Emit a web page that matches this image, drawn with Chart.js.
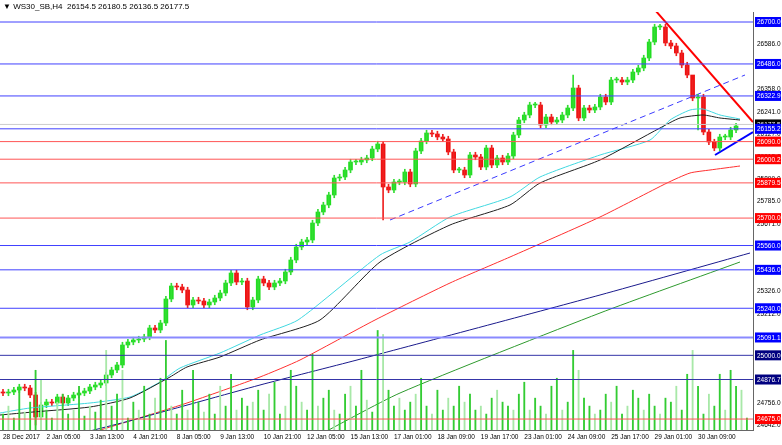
<!DOCTYPE html>
<html><head><meta charset="utf-8">
<script src="https://cdn.jsdelivr.net/npm/chart.js@4/dist/chart.umd.min.js"></script>
<style>body{margin:0;background:#fff;overflow:hidden}#w{position:relative;width:782px;height:445px}
#hdr{position:absolute;left:3px;top:2px;font:8px "Liberation Sans";color:#000}</style></head>
<body><div id="w"><canvas id="c" width="782" height="445"></canvas><div id="hdr">▼ WS30_SB,H4&nbsp; 26154.5 26180.5 26136.5 26177.5</div></div>
<script>
// close levels (chart pixel rows, converted to price below)
const yRead=[393,392,390,387,388,395,417,405,402,403,397,403,398,395,393,391,387,385,383,375,370,365,345,342,340,339,337,328,330,323,299,286,287,290,305,300,301,305,302,298,293,283,273,282,281,307,300,279,
283,287,283,281,272,260,247,242,240,223,212,205,195,178,177,170,162,162,160,158,149,144,187,190,182,182,172,184,151,141,133,134,137,139,152,170,170,175,155,157,167,148,165,158,162,156,
135,120,115,105,105,125,117,122,120,115,108,88,118,108,110,107,97,102,80,80,82,80,72,68,58,42,27,
27,43,46,53,65,75,98,97,132,142,148,137,137,130,126];
const volumes=[8,12,6,20,9,14,30,25,10,6,14,18,8,10,22,7,12,9,15,40,12,18,30,6,14,10,22,8,16,26,45,12,8,20,10,30,14,9,18,8,22,12,28,10,16,12,14,20,
10,18,24,8,12,30,22,14,10,38,12,16,20,10,8,18,22,12,30,15,9,50,48,20,12,16,10,14,18,26,12,8,20,10,16,12,22,14,18,10,12,8,16,20,14,12,10,18,
24,10,16,12,8,22,26,10,14,40,30,16,12,8,10,18,14,22,8,12,20,16,10,18,12,8,
16,14,22,10,28,40,22,8,18,12,28,10,30,22,20,6];
const wickOverride={6:[425,null],70:[220,null],105:[null,75],128:[130,null],127:[null,80]};
const xLabels=["28 Dec 2017","2 Jan 05:00","3 Jan 13:00","4 Jan 21:00","8 Jan 05:00","9 Jan 13:00","10 Jan 21:00","12 Jan 05:00","15 Jan 13:00","17 Jan 01:00","18 Jan 09:00","19 Jan 17:00","23 Jan 01:00","24 Jan 09:00","25 Jan 17:00","29 Jan 01:00","30 Jan 09:00"];
const yTicks=[26700,26586,26471,26358,26241,26127,26013,25899,25785,25671,25556,25441,25326,25212,25098,24984,24870,24756,24642];
const blueLevels=[26700,26486,26322.9,26155.2,25560,25436,25240];
const lightBlueLevels=[25091.1];
const navyLevels=[25000,24876.7];
const redLevels=[26090,26000.2,25879.5,25700,24675];
const lastPrice=26177.5;
// moving averages / trend lines read as [x pixel, y pixel] on the picture
const maCyan=[[0,413],[30,408],[90,403],[130,397],[160,382],[180,368],[220,353],[260,335],[298,320],[380,255],[410,242],[450,217],[510,197],[540,177],[600,155],[650,140],[670,120],[690,110],[703,109],[720,115],[740,119]];
const maBlack=[[0,415],[33,412],[90,407],[130,398],[170,377],[187,367],[220,357],[260,340],[320,320],[380,262],[450,225],[510,205],[540,183],[600,160],[660,128],[680,118],[703,115],[720,118],[740,120]];
const maRed=[[97,431],[133,420],[187,403],[260,377],[300,360],[375,320],[450,283],[510,257],[600,217],[667,183],[690,173],[710,170],[740,166]];
const maNavy=[[90,431],[133,420],[260,385],[357,360],[600,295],[750,253]];
const maGreen=[[310,440],[400,393],[600,313],[740,262]];
const trendRed=[[655,10],[753,122]];
const trendBlue=[[715,155],[753,132]];
const trendDash=[[390,220],[745,75]];

const P=y=>26700-(y-22)*5.1;
const I=x=>(x-3)/5.43;
const C=yRead.map(P);
const O=C.map((c,i)=>i?C[i-1]:c+5);
const H=C.map((c,i)=>{let v=Math.max(c,O[i])+14;const w=wickOverride[i];if(w&&w[1]!=null)v=P(w[1]);return v;});
const L=C.map((c,i)=>{let v=Math.min(c,O[i])-14;const w=wickOverride[i];if(w&&w[0]!=null)v=P(w[0]);return v;});
const up=C.map((c,i)=>c>=O[i]);
const pts=a=>a.map(p=>({x:I(p[0]),y:P(p[1])}));
const XMIN=I(0),XMAX=I(753);
const hline=(v,col,w)=>({type:'line',data:[{x:XMIN,y:v},{x:XMAX,y:v}],borderColor:col,borderWidth:w||1,pointRadius:0,yAxisID:'y'});
const ds=[];
blueLevels.forEach(v=>ds.push(hline(v,'#4040ff',1)));
lightBlueLevels.forEach(v=>ds.push(hline(v,'#8a8aff',2)));
navyLevels.forEach(v=>ds.push(hline(v,'#3535a8',1)));
redLevels.forEach(v=>ds.push(hline(v,'#ff5555',1)));
ds.push(hline(lastPrice,'#cccccc',1));
ds.push({type:'bar',data:volumes.map((v,i)=>({x:i,y:v})),backgroundColor:volumes.map((v,i)=>i%3==1?'#a8e8a8':'#33cc33'),barThickness:1.2,grouped:false,yAxisID:'v'});
[[maGreen,'#2e9a2e'],[maNavy,'#1a1a8c'],[maRed,'#ff3030'],[maBlack,'#202020'],[maCyan,'#40d8e0']].forEach(([a,c])=>ds.push({type:'line',data:pts(a),borderColor:c,borderWidth:1,pointRadius:0,tension:0.2,yAxisID:'y'}));
ds.push({type:'bar',data:C.map((c,i)=>({x:i,y:[L[i],H[i]]})),backgroundColor:up.map(u=>u?'#33dd33':'#ee2222'),barThickness:1,grouped:false,yAxisID:'y'});
ds.push({type:'bar',data:C.map((c,i)=>({x:i,y:[O[i],c]})),backgroundColor:up.map(u=>u?'#22dd22':'#ee1111'),barThickness:4,grouped:false,minBarLength:1,yAxisID:'y'});
ds.push({type:'line',data:pts(trendDash),borderColor:'#3b3bff',borderWidth:1,borderDash:[6,4],pointRadius:0,yAxisID:'y'});
ds.push({type:'line',data:pts(trendRed),borderColor:'#ff0000',borderWidth:2,pointRadius:0,yAxisID:'y'});
ds.push({type:'line',data:pts(trendBlue),borderColor:'#0000ff',borderWidth:2,pointRadius:0,yAxisID:'y'});

const boxes={id:'boxes',afterDraw(ch){const g=ch.ctx,y=ch.scales.y,a=ch.chartArea;g.save();g.font='6.5px "Liberation Sans"';g.textBaseline='middle';
 const draw=(v,col)=>{const py=y.getPixelForValue(v);g.fillStyle=col;g.fillRect(a.right+2,py-5,26,10);g.fillStyle='#fff';g.fillText(v.toFixed(1),a.right+4,py+0.5);};
 draw(lastPrice,'#000');
 blueLevels.forEach(v=>draw(v,'#0000ff'));lightBlueLevels.forEach(v=>draw(v,'#0000ff'));navyLevels.forEach(v=>draw(v,'#000080'));redLevels.forEach(v=>draw(v,'#ff0000'));g.restore();}};

new Chart(document.getElementById('c'),{data:{datasets:ds},plugins:[boxes],
options:{responsive:false,animation:false,events:[],layout:{padding:{top:12,left:0,right:0,bottom:0}},
plugins:{legend:{display:false},tooltip:{enabled:false}},
scales:{
 x:{type:'linear',min:XMIN,max:XMAX,offset:false,grid:{display:false,drawTicks:false},border:{color:'#666'},
  afterBuildTicks(s){s.ticks=xLabels.map((l,i)=>({value:i*8}));},
  ticks:{autoSkip:false,maxRotation:0,font:{size:6.5,family:'Liberation Sans'},color:'#000',padding:3,callback:(v)=>xLabels[Math.round(v/8)],align:'start'},
  afterFit(s){s.height=15;}},
 y:{position:'right',min:P(430),max:P(12),grid:{display:false,drawTicks:false},border:{color:'#666'},
  afterBuildTicks(s){s.ticks=yTicks.map(v=>({value:v}));},
  ticks:{autoSkip:false,font:{size:6.5,family:'Liberation Sans'},color:'#000',padding:4,callback:v=>v.toFixed(1)},
  afterFit(s){s.width=29;}},
 v:{display:false,min:0,max:210}
}}});
</script></body></html>
